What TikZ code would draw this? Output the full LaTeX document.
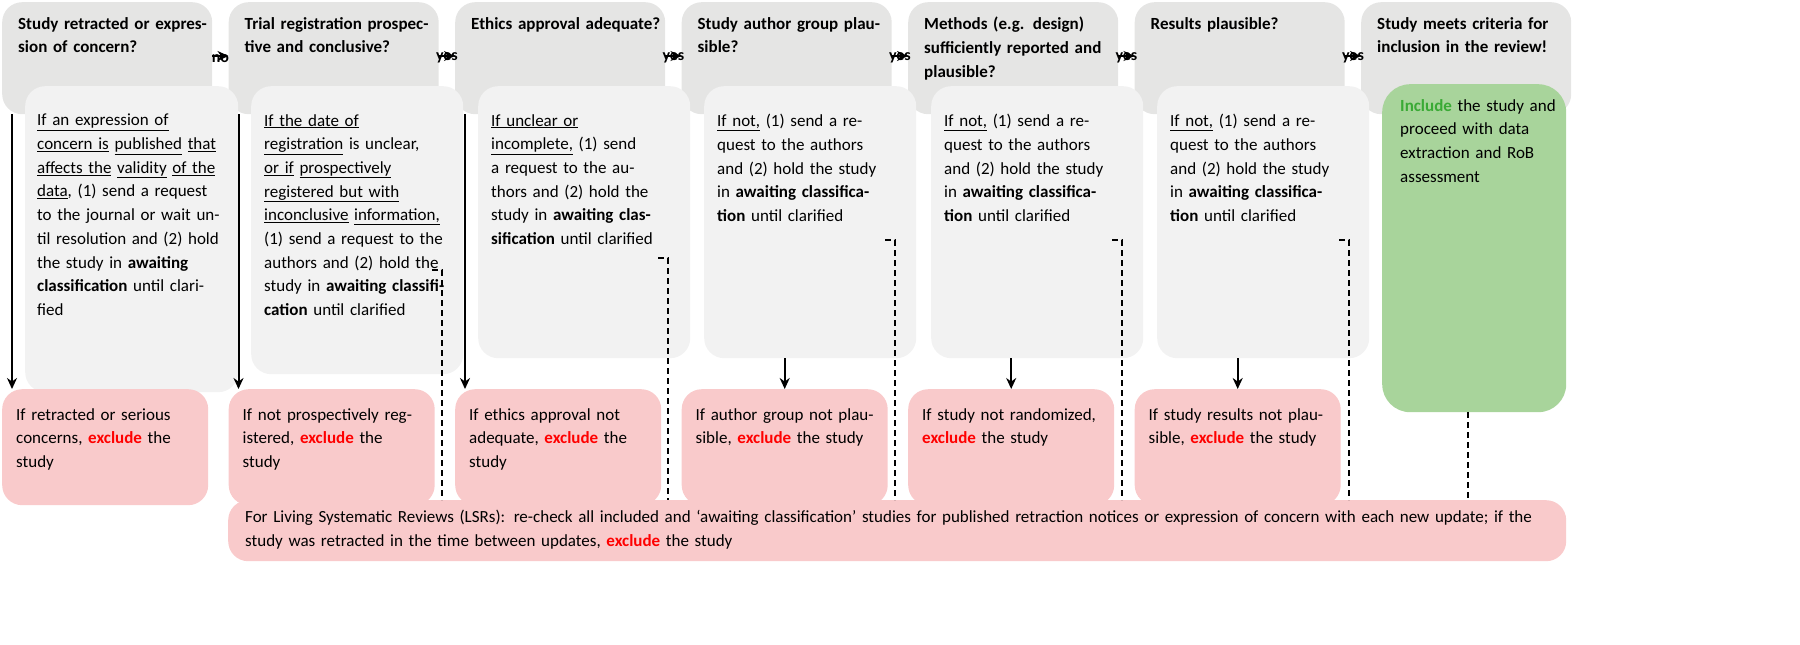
\documentclass[tikz,border=0pt]{standalone}
\usepackage{fontspec}
\setmainfont{Carlito}
\usetikzlibrary{arrows.meta}
\definecolor{hdr}{HTML}{E5E5E4}
\definecolor{det}{HTML}{F2F2F2}
\definecolor{rbox}{HTML}{F9CACB}
\definecolor{gbox}{HTML}{A8D49B}
\definecolor{exred}{HTML}{FF0000}
\definecolor{incg}{HTML}{3AAA35}
\newcommand{\exc}{\textcolor{exred}{\textbf{exclude}}}
\newcommand{\myul}[1]{\underline{#1}}
\begin{document}
\begin{tikzpicture}[x=1pt,y=-1pt,
  box/.style={draw=none,rounded corners=20pt,anchor=north west,inner sep=0pt},
  txt/.style={anchor=north west,align=left,inner sep=0pt,font=\fontsize{17}{23.7}\selectfont},
  hd/.style={txt,font=\fontsize{17}{23.7}\selectfont\bfseries,text width=190pt},
  arr/.style={line width=2pt,-{Stealth[length=11pt,width=10pt]}},
  dsh/.style={line width=2pt,dash pattern=on 6pt off 4pt},
  lbl/.style={font=\fontsize{16}{18}\selectfont\bfseries,inner sep=0pt}]
\useasboundingbox (0,0) rectangle (1800,645);
% headers
\foreach \i/\t in {0/{Study retracted or expression of concern?},1/{Trial registration prospective and conclusive?},2/{Ethics approval adequate?},3/{Study author group plausible?},4/{Methods (e.g. design) sufficiently reported and plausible?},5/{Results plausible?},6/{Study meets criteria for inclusion in the review!}}{
  \node[box,fill=hdr,minimum width=210pt,minimum height=112pt] (h\i) at (2+226.5*\i,2) {};
  \node[hd] (ht\i) at (18+226.5*\i,17) {\t};
}
% detail boxes
\node[box,fill=det,minimum width=213pt,minimum height=306pt] (d0) at (25,86) {};
\node[box,fill=det,minimum width=212pt,minimum height=288pt] (d1) at (251,86) {};
\node[box,fill=det,minimum width=212pt,minimum height=272pt] (d2) at (478,86) {};
\node[box,fill=det,minimum width=212pt,minimum height=272pt] (d3) at (704,86) {};
\node[box,fill=det,minimum width=212pt,minimum height=272pt] (d4) at (931,86) {};
\node[box,fill=det,minimum width=212pt,minimum height=272pt] (d5) at (1157,86) {};
\node[box,fill=gbox,minimum width=184pt,minimum height=328pt,rounded corners=28pt] (d6) at (1382,84) {};
\node[txt,text width=185pt] (dt0) at (37,114) {\myul{If an expression of} \myul{concern is} \myul{published} \myul{that} \myul{affects the} \myul{validity} \myul{of the} \myul{data}, (1) send a request to the journal or wait until resolution and (2) hold the study in \textbf{awaiting classification} until clarified};
\node[txt,text width=185pt] (dt1) at (264,114) {\myul{If the date of} \myul{registration} is unclear, \myul{or if} \myul{prospectively} \myul{registered but with} \myul{inconclusive} \myul{information,} (1) send a request to the authors and (2) hold the study in \textbf{awaiting classification} until clarified};
\node[txt,text width=170pt] (dt2) at (491,114) {\myul{If unclear or} \myul{incomplete,} (1) send a request to the authors and (2) hold the study in \textbf{awaiting classification} until clarified};
\node[txt,text width=170pt] (dt3) at (717,114) {\myul{If not,} (1) send a request to the authors and (2) hold the study in \textbf{awaiting classification} until clarified};
\node[txt,text width=170pt] (dt4) at (944,114) {\myul{If not,} (1) send a request to the authors and (2) hold the study in \textbf{awaiting classification} until clarified};
\node[txt,text width=170pt] (dt5) at (1170,114) {\myul{If not,} (1) send a request to the authors and (2) hold the study in \textbf{awaiting classification} until clarified};
\node[txt,text width=160pt] (dt6) at (1400,99) {\textcolor{incg}{\textbf{Include}} the study and proceed with data extraction and RoB assessment};
% red boxes
\foreach \i/\t in {0/{If retracted or serious concerns, \exc{} the study},1/{If not prospectively registered, \exc{} the study},2/{If ethics approval not adequate, \exc{} the study},3/{If author group not plausible, \exc{} the study},4/{If study not randomized, \exc{} the study},5/{If study results not plausible, \exc{} the study}}{
  \node[box,fill=rbox,minimum width=206pt,minimum height=116pt] (r\i) at (2+226.5*\i,389) {};
  \node[txt,text width=178pt] (rt\i) at (16+226.5*\i,408) {\t};
}
\node[box,fill=rbox,minimum width=1338pt,minimum height=61pt] (lsr) at (228,500) {};
\node[txt,text width=1300pt] (lsrt) at (245,510) {For Living Systematic Reviews (LSRs): re-check all included and ‘awaiting classification’ studies for published retraction notices or expression of concern with each new update; if the study was retracted in the time between updates, \exc{} the study};
% horizontal arrows
\foreach \i/\l in {0/no,1/yes,2/yes,3/yes,4/yes,5/yes}{
  \pgfmathtruncatemacro{\j}{\i+1}
  \draw[arr] (h\i.east|-0,56) -- (h\j.west|-0,56) coordinate[midway] (m\i);
  \node[lbl,anchor=south] at ([yshift=-7pt]m\i) {\l};
}
% solid down lines (cols 0-2)
\foreach \i in {0,1,2}{
  \draw[arr] ([xshift=10pt]h\i.south west) -- ([xshift=10pt]r\i.north west);
}
\foreach \i in {3,4,5}{
  \draw[arr] (d\i.south-|r\i.north) -- (r\i.north);
}
% dashed lines to LSR box
\coordinate (c1) at (442,270); \coordinate (c2) at (668,258);
\coordinate (c3) at (895,240); \coordinate (c4) at (1122,240); \coordinate (c5) at (1349,240);
\foreach \i in {1,...,5}{
  \draw[dsh] ([xshift=-10pt]c\i) -- (c\i) -- (c\i|-lsr.north);
}
\draw[dsh] (d6.south-|1468,0) -- (lsr.north-|1468,0);
\end{tikzpicture}
\end{document}
